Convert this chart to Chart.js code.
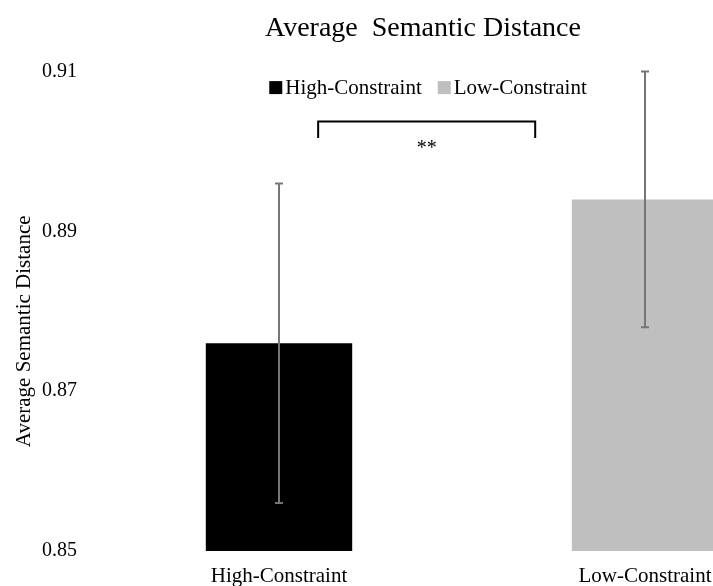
<!DOCTYPE html>
<html>
<head>
<meta charset="utf-8">
<script src="https://cdn.jsdelivr.net/npm/chart.js@4.4.1/dist/chart.umd.min.js"></script>
<style>
  html, body { margin: 0; padding: 0; background: #fff; overflow: hidden; }
  #wrap { width: 713px; height: 586px; overflow: hidden; }
</style>
</head>
<body>
<div id="wrap"><canvas id="chart" width="856" height="586"></canvas></div>
<script>
// --- DONNÉES ---
const categories = ['High-Constraint', 'Low-Constraint'];
const means = [0.876, 0.894];
const errLow = [0.856, 0.878];
const errHigh = [0.896, 0.910];
const barColors = ['#000000', '#bfbfbf'];
const yTicks = [0.85, 0.87, 0.89, 0.91];

const FONT = "'Liberation Serif', 'Times New Roman', serif";

// Accolade de significativité entre les deux barres (en unités d'axe)
const bracket = { x0: 0.107, x1: 0.70, yTop: 0.90375, yLeg: 0.9017, label: '**' };

// Titre de l'axe Y, un peu décalé vers le bas comme dans l'original
function yTitleDraw(scale) {
    const ctx = scale.ctx;
    const ca = scale.chart.chartArea;
    ctx.save();
    ctx.translate(24, (ca.top + ca.bottom) / 2 + 20);
    ctx.rotate(-Math.PI / 2);
    ctx.font = '21px ' + FONT;
    ctx.fillStyle = '#000';
    ctx.textAlign = 'center';
    ctx.textBaseline = 'middle';
    ctx.fillText('Average Semantic Distance', 0, 0);
    ctx.restore();
}

// Barres d'erreur + légende + accolade
const extras = {
    id: 'extras',
    afterDatasetsDraw(chart) {
        const ctx = chart.ctx;
        const x = chart.scales.x;
        const y = chart.scales.y;
        const meta = chart.getDatasetMeta(0);

        // barres d'erreur
        ctx.save();
        ctx.strokeStyle = '#767676';
        ctx.lineWidth = 2;
        meta.data.forEach((bar, i) => {
            const yl = y.getPixelForValue(errLow[i]);
            const yh = y.getPixelForValue(errHigh[i]);
            ctx.beginPath();
            ctx.moveTo(bar.x, yl);
            ctx.lineTo(bar.x, yh);
            ctx.moveTo(bar.x - 4, yl);
            ctx.lineTo(bar.x + 4, yl);
            ctx.moveTo(bar.x - 4, yh);
            ctx.lineTo(bar.x + 4, yh);
            ctx.stroke();
        });
        ctx.restore();

        // accolade
        const bx0 = x.getPixelForValue(bracket.x0);
        const bx1 = x.getPixelForValue(bracket.x1);
        const byT = y.getPixelForValue(bracket.yTop);
        const byL = y.getPixelForValue(bracket.yLeg);
        ctx.save();
        ctx.strokeStyle = '#000';
        ctx.lineWidth = 2;
        ctx.beginPath();
        ctx.moveTo(bx0, byL);
        ctx.lineTo(bx0, byT);
        ctx.lineTo(bx1, byT);
        ctx.lineTo(bx1, byL);
        ctx.stroke();
        ctx.fillStyle = '#000';
        ctx.font = '20px ' + FONT;
        ctx.textAlign = 'center';
        ctx.textBaseline = 'top';
        ctx.fillText(bracket.label, (bx0 + bx1) / 2, byL + 1);
        ctx.restore();

        // légende
        ctx.save();
        ctx.font = '21px ' + FONT;
        ctx.textBaseline = 'middle';
        ctx.textAlign = 'left';
        const box = 13, gap = 3, itemGap = 16;
        const widths = categories.map(c => ctx.measureText(c).width);
        const total = widths.reduce((a, w) => a + box + gap + w, 0) + itemGap * (categories.length - 1);
        let lx = chart.width / 2 - total / 2;
        const ly = chart.chartArea.top + 16;
        categories.forEach((c, i) => {
            ctx.fillStyle = barColors[i];
            ctx.fillRect(lx, ly - box / 2, box, box);
            ctx.fillStyle = '#000';
            ctx.fillText(c, lx + box + gap, ly + 1);
            lx += box + gap + widths[i] + itemGap;
        });
        ctx.restore();

        // titre de l'axe Y
        yTitleDraw(y);
    }
};

new Chart(document.getElementById('chart'), {
    type: 'bar',
    data: {
        labels: categories,
        datasets: [{
            label: 'Average Semantic Distance',
            data: means,
            backgroundColor: barColors,
            borderWidth: 0,
            categoryPercentage: 1,
            barPercentage: 0.4
        }]
    },
    options: {
        responsive: false,
        animation: false,
        layout: { padding: { left: 18, right: 28, top: 0, bottom: 0 } },
        plugins: {
            legend: { display: false },
            tooltip: { enabled: false },
            title: {
                display: true,
                text: 'Average  Semantic Distance',
                color: '#000',
                font: { family: FONT, size: 28, weight: 'normal' },
                padding: { top: 12, bottom: 26 }
            }
        },
        scales: {
            x: {
                grid: { display: false, drawTicks: false },
                border: { display: false },
                afterFit: (scale) => { scale.height = 35; },
                ticks: {
                    color: '#000',
                    font: { family: FONT, size: 21 },
                    padding: 13,
                    maxRotation: 0
                }
            },
            y: {
                min: 0.85,
                max: 0.91,
                afterBuildTicks: (scale) => { scale.ticks = yTicks.map(v => ({ value: v })); },
                afterFit: (scale) => { scale.width = 78; },
                grid: { display: false, drawTicks: false },
                border: { display: false },
                ticks: {
                    color: '#000',
                    font: { family: FONT, size: 20 },
                    padding: 19,
                    callback: v => v.toFixed(2)
                },
                title: { display: false }
            }
        }
    },
    plugins: [extras]
});
</script>
</body>
</html>
